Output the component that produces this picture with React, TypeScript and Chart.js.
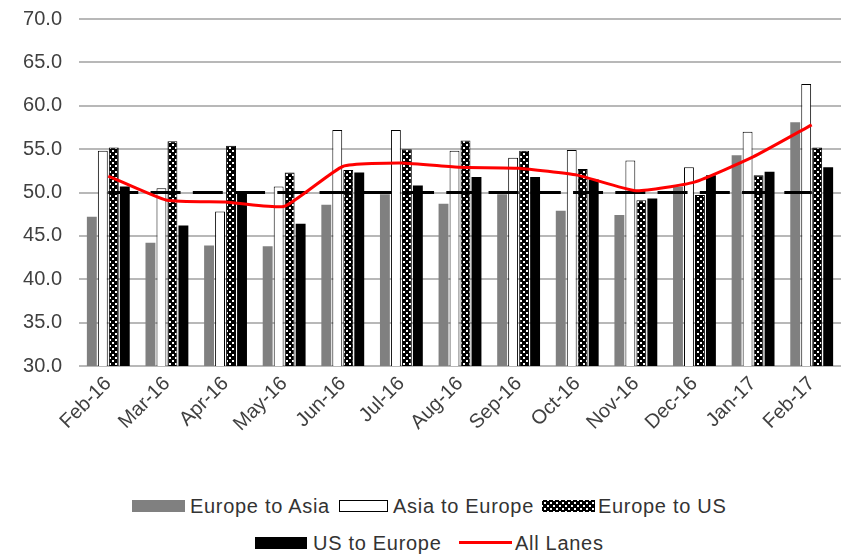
import React, { useEffect, useRef } from 'react';
import { Chart, registerables } from 'chart.js';

Chart.register(...registerables);

const months = ['Feb-16', 'Mar-16', 'Apr-16', 'May-16', 'Jun-16', 'Jul-16', 'Aug-16', 'Sep-16', 'Oct-16', 'Nov-16', 'Dec-16', 'Jan-17', 'Feb-17'];
const europeToAsia = [47.2, 44.2, 43.9, 43.8, 48.6, 49.8, 48.7, 49.8, 47.9, 47.4, 50.7, 54.3, 58.1];
const asiaToEurope = [54.8, 50.5, 47.8, 50.7, 57.2, 57.2, 54.8, 54.0, 54.9, 53.7, 52.9, 57.0, 62.5];
const europeToUS = [55.2, 55.9, 55.4, 52.3, 52.6, 55.0, 56.0, 54.8, 52.7, 49.1, 49.7, 52.0, 55.2];
const usToEurope = [50.7, 46.2, 50.0, 46.4, 52.3, 50.8, 51.8, 51.8, 51.5, 49.3, 52.0, 52.4, 52.9];
const allLanes = [51.9, 49.1, 48.9, 48.4, 53.0, 53.4, 52.9, 52.8, 52.0, 50.2, 51.2, 54.1, 57.8];
const threshold = [50, 50, 50, 50, 50, 50, 50, 50, 50, 50, 50, 50, 50];
const yTicks = { min: 30, max: 70, step: 5 };

const FONT = '"Liberation Sans", Arial, sans-serif';
const CANVAS_W = 842;
const CANVAS_H = 470;
const CANVAS_TOP = -10;
const PLOT_BOTTOM = 366;

function Swatch({ kind }: { kind: string }) {
  const base: React.CSSProperties = { position: 'absolute', boxSizing: 'border-box' };
  if (kind === 'gray') return <div style={{ ...base, width: 53, height: 12, background: '#808080' }} />;
  if (kind === 'white') return <div style={{ ...base, width: 49, height: 12, background: '#fff', border: '1.5px solid #000' }} />;
  if (kind === 'black') return <div style={{ ...base, width: 52, height: 12, background: '#000' }} />;
  if (kind === 'pattern')
    return (
      <div
        style={{
          ...base,
          width: 53,
          height: 12,
          backgroundColor: '#000',
          backgroundImage:
            'radial-gradient(circle, #fff 0.9px, transparent 1.3px), radial-gradient(circle, #fff 0.9px, transparent 1.3px)',
          backgroundSize: '6px 6px, 6px 6px',
          backgroundPosition: '0px 0px, 3px 3px',
        }}
      />
    );
  return <div style={{ ...base, width: 53, height: 3, background: '#ff0000', top: 4 }} />;
}

const legendItems = [
  { label: 'Europe to Asia', kind: 'gray', box: 132, text: 190, row: 0 },
  { label: 'Asia to Europe', kind: 'white', box: 339, text: 393, row: 0 },
  { label: 'Europe to US', kind: 'pattern', box: 542, text: 598, row: 0 },
  { label: 'US to Europe', kind: 'black', box: 255, text: 313, row: 1 },
  { label: 'All Lanes', kind: 'line', box: 459, text: 515, row: 1 },
];

export default function App() {
  const ref = useRef<HTMLCanvasElement>(null);

  useEffect(() => {
    const canvas = ref.current;
    if (!canvas) return;
    const pc = document.createElement('canvas');
    pc.width = 6;
    pc.height = 6;
    const p = pc.getContext('2d')!;
    p.fillStyle = '#000';
    p.fillRect(0, 0, 6, 6);
    p.fillStyle = '#fff';
    p.fillRect(1, 1, 2, 2);
    p.fillRect(4, 4, 2, 2);
    const pattern = canvas.getContext('2d')!.createPattern(pc, 'repeat')!;

    const chart = new Chart(canvas, {
      type: 'bar',
      data: {
        labels: months,
        datasets: [
          {
            type: 'line',
            label: 'All Lanes',
            data: allLanes,
            borderColor: '#ff0000',
            backgroundColor: '#ff0000',
            borderWidth: 3,
            pointRadius: 0,
            tension: 0.15,
            fill: false,
            order: -2,
          } as any,
          {
            type: 'line',
            label: 'Threshold',
            data: threshold,
            borderColor: '#000',
            borderWidth: 3,
            borderDash: [30, 12.25],
            pointRadius: 0,
            fill: false,
            order: -1,
          } as any,
          { label: 'Europe to Asia', data: europeToAsia, backgroundColor: '#808080', borderWidth: 0 },
          { label: 'Asia to Europe', data: asiaToEurope, backgroundColor: '#ffffff', borderColor: '#000', borderWidth: 1 },
          { label: 'Europe to US', data: europeToUS, backgroundColor: pattern as any, borderColor: '#000', borderWidth: 1 },
          { label: 'US to Europe', data: usToEurope, backgroundColor: '#000000', borderWidth: 0 },
        ],
      },
      options: {
        animation: false,
        responsive: false,
        maintainAspectRatio: false,
        categoryPercentage: 0.75,
        barPercentage: 0.9,
        layout: { padding: { top: 8, right: 1, left: 0, bottom: 0 } },
        plugins: { legend: { display: false }, tooltip: { enabled: false } },
        scales: {
          x: {
            grid: { display: false, drawTicks: false },
            border: { display: false },
            ticks: {
              font: { family: FONT, size: 20 },
              color: '#404040',
              minRotation: 45,
              maxRotation: 45,
              autoSkip: false,
              padding: 6,
            },
            afterFit: (s: any) => {
              s.height = CANVAS_H - (PLOT_BOTTOM - CANVAS_TOP);
            },
          },
          y: {
            min: yTicks.min,
            max: yTicks.max,
            grid: { color: '#b8b8b8', lineWidth: 2, drawTicks: false },
            border: { display: false },
            ticks: {
              stepSize: yTicks.step,
              font: { family: FONT, size: 20 },
              color: '#404040',
              padding: 17,
              callback: (v: any) => Number(v).toFixed(1),
            },
            afterFit: (s: any) => {
              s.width = 79;
            },
          },
        },
      } as any,
    });
    return () => chart.destroy();
  }, []);

  return (
    <div style={{ position: 'absolute', left: 0, top: 0, width: 842, height: 554, background: '#fff', overflow: 'hidden' }}>
      <canvas ref={ref} width={CANVAS_W} height={CANVAS_H} style={{ position: 'absolute', left: 0, top: CANVAS_TOP, width: CANVAS_W, height: CANVAS_H }} />
      {legendItems.map((it) => {
        const rowTop = it.row === 0 ? 496 : 533;
        const boxTop = it.row === 0 ? 500 : 537;
        return (
          <React.Fragment key={it.label}>
            <div style={{ position: 'absolute', left: it.box, top: boxTop, width: 60, height: 12 }}>
              <Swatch kind={it.kind} />
            </div>
            <div
              style={{
                position: 'absolute',
                left: it.text,
                top: rowTop,
                font: `20px ${FONT}`,
                lineHeight: '20px',
                letterSpacing: '0.7px',
                color: '#333333',
                whiteSpace: 'nowrap',
              }}
            >
              {it.label}
            </div>
          </React.Fragment>
        );
      })}
    </div>
  );
}
